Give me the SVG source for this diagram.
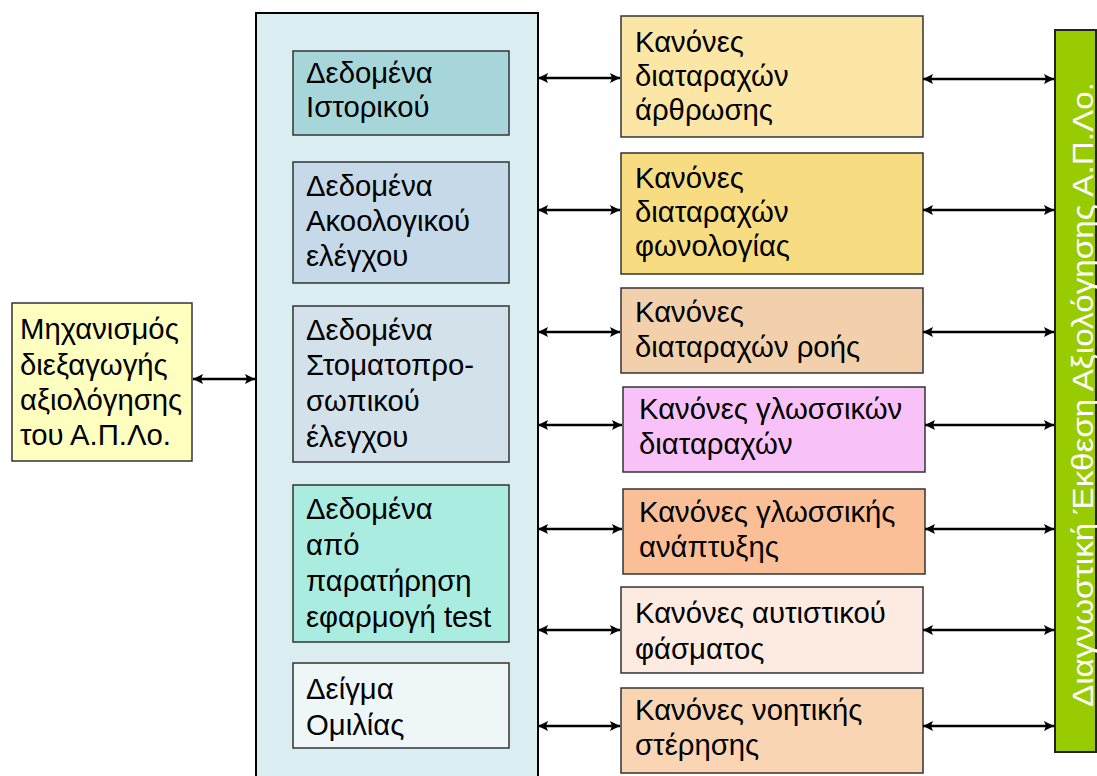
<svg xmlns="http://www.w3.org/2000/svg" width="1097" height="776" viewBox="0 0 1097 776">
<defs>
<marker id="ah" viewBox="0 0 10 10" refX="10" refY="5" markerWidth="11" markerHeight="10" markerUnits="userSpaceOnUse" orient="auto-start-reverse">
<path d="M0,0 L10,5 L0,10 L2,5 Z" fill="#000"/>
</marker>
<style>
.box{stroke:#333;stroke-width:1.5}
.t{font-family:"Liberation Sans",Arial,sans-serif;font-size:29.3px;fill:#000}
.c{stroke:#000;stroke-width:2.5;fill:none;marker-start:url(#ah);marker-end:url(#ah)}
</style>
</defs>
<rect width="1097" height="776" fill="#fff"/>

<g id="mechanism">
<rect class="box" x="12" y="303" width="180" height="158" fill="#ffffc0"/>
<text class="t"><tspan x="20" y="339">Μηχανισμός</tspan><tspan x="20" y="375">διεξαγωγής</tspan><tspan x="20" y="410">αξιολόγησης</tspan><tspan x="20" y="445">του Α.Π.Λο.</tspan></text>
</g>

<g id="data-container">
<rect x="256" y="13" width="282" height="775" fill="#daeef2" stroke="#000" stroke-width="2"/>
</g>

<g id="d1">
<rect class="box" x="293" y="51" width="216" height="84" fill="#a6d6d9"/>
<text class="t"><tspan x="306" y="83">Δεδομένα</tspan><tspan x="306" y="117">Ιστορικού</tspan></text>
</g>
<g id="d2">
<rect class="box" x="293" y="162" width="216" height="121" fill="#c5d9e8"/>
<text class="t"><tspan x="306" y="196">Δεδομένα</tspan><tspan x="306" y="231">Ακοολογικού</tspan><tspan x="306" y="266">ελέγχου</tspan></text>
</g>
<g id="d3">
<rect class="box" x="293" y="306" width="216" height="156" fill="#d3e1ea"/>
<text class="t"><tspan x="306" y="340">Δεδομένα</tspan><tspan x="306" y="375">Στοματοπρο-</tspan><tspan x="306" y="411">σωπικού</tspan><tspan x="306" y="447">έλεγχου</tspan></text>
</g>
<g id="d4">
<rect class="box" x="293" y="485" width="216" height="157" fill="#aaece0"/>
<text class="t"><tspan x="306" y="519">Δεδομένα</tspan><tspan x="306" y="555">από</tspan><tspan x="306" y="591">παρατήρηση</tspan><tspan x="306" y="627">εφαρμογή test</tspan></text>
</g>
<g id="d5">
<rect class="box" x="293" y="663" width="216" height="85" fill="#eef6f7"/>
<text class="t"><tspan x="306" y="699">Δείγμα</tspan><tspan x="306" y="735">Ομιλίας</tspan></text>
</g>

<g id="r1">
<rect class="box" x="621" y="16" width="302" height="121" fill="#fbe6a6"/>
<text class="t"><tspan x="635" y="52">Κανόνες</tspan><tspan x="635" y="86">διαταραχών</tspan><tspan x="635" y="120">άρθρωσης</tspan></text>
</g>
<g id="r2">
<rect class="box" x="621" y="153" width="302" height="121" fill="#f7dc82"/>
<text class="t"><tspan x="635" y="188">Κανόνες</tspan><tspan x="635" y="222">διαταραχών</tspan><tspan x="635" y="256">φωνολογίας</tspan></text>
</g>
<g id="r3">
<rect class="box" x="621" y="288" width="302" height="85" fill="#f2d0ac"/>
<text class="t"><tspan x="635" y="322">Κανόνες</tspan><tspan x="635" y="357">διαταραχών ροής</tspan></text>
</g>
<g id="r4">
<rect class="box" x="623" y="387" width="302" height="85" fill="#f8c2f8"/>
<text class="t"><tspan x="639" y="419">Κανόνες γλωσσικών</tspan><tspan x="639" y="454">διαταραχών</tspan></text>
</g>
<g id="r5">
<rect class="box" x="623" y="489" width="302" height="85" fill="#fbbf98"/>
<text class="t"><tspan x="639" y="522">Κανόνες γλωσσικής</tspan><tspan x="639" y="557">ανάπτυξης</tspan></text>
</g>
<g id="r6">
<rect class="box" x="621" y="587" width="302" height="86" fill="#fdeae0"/>
<text class="t"><tspan x="635" y="623">Κανόνες αυτιστικού</tspan><tspan x="635" y="659">φάσματος</tspan></text>
</g>
<g id="r7">
<rect class="box" x="621" y="688" width="302" height="85" fill="#f9d5b4"/>
<text class="t"><tspan x="635" y="720">Κανόνες νοητικής</tspan><tspan x="635" y="755">στέρησης</tspan></text>
</g>

<g id="report">
<rect x="1055" y="30" width="41" height="722" fill="#99cc00" stroke="#222" stroke-width="2"/>
<text transform="translate(1093,707) rotate(-90)" x="0" y="0" font-family="'Liberation Sans',Arial,sans-serif" font-size="29" fill="#fff" textLength="625" lengthAdjust="spacingAndGlyphs">Διαγνωστική Έκθεση Αξιολόγησης Α.Π.Λο.</text>
</g>

<g id="connectors">
<line class="c" x1="193" y1="379" x2="255" y2="379"/>
<line class="c" x1="538" y1="78" x2="620" y2="78"/>
<line class="c" x1="538" y1="210" x2="620" y2="210"/>
<line class="c" x1="538" y1="332" x2="620" y2="332"/>
<line class="c" x1="538" y1="425" x2="622" y2="425"/>
<line class="c" x1="538" y1="529" x2="622" y2="529"/>
<line class="c" x1="538" y1="630" x2="620" y2="630"/>
<line class="c" x1="538" y1="726" x2="620" y2="726"/>
<line class="c" x1="923" y1="79" x2="1054" y2="79"/>
<line class="c" x1="923" y1="210" x2="1054" y2="210"/>
<line class="c" x1="923" y1="332" x2="1054" y2="332"/>
<line class="c" x1="925" y1="425" x2="1054" y2="425"/>
<line class="c" x1="925" y1="529" x2="1054" y2="529"/>
<line class="c" x1="923" y1="630" x2="1054" y2="630"/>
<line class="c" x1="923" y1="726" x2="1054" y2="726"/>
</g>
</svg>
